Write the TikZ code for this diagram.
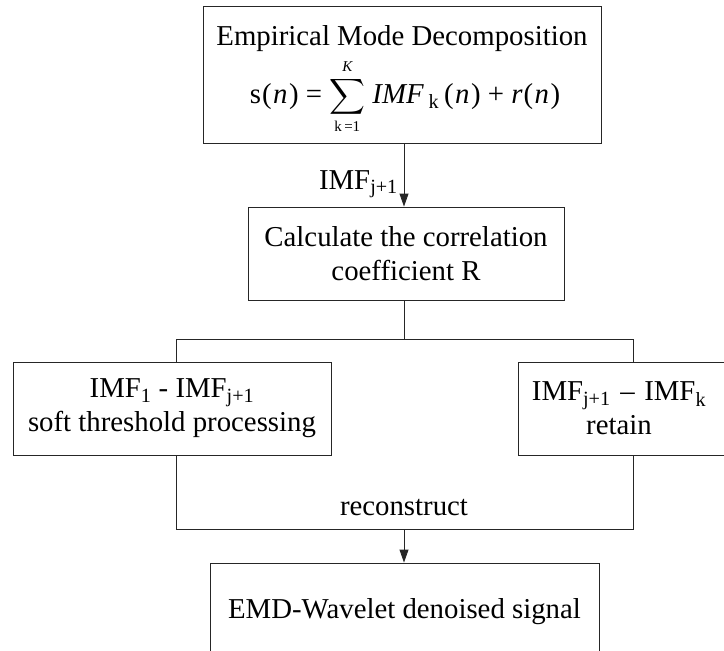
\documentclass[tikz,border=0pt]{standalone}
\usepackage{amsmath}
\usepackage{exscale}
\usepackage{fontspec}
\setmainfont{Liberation Serif}
\usetikzlibrary{arrows.meta}
\tikzset{
  box/.style={draw=black!85, line width=0.9pt, align=center, inner sep=0pt,
    font=\fontsize{28.8}{34}\selectfont},
  wire/.style={draw=black!85, line width=0.9pt},
  arr/.style={wire, -{Triangle[length=13pt,width=9pt]}},
  lbl/.style={inner sep=0pt, font=\fontsize{28.8}{34}\selectfont}
}
\newcommand{\sm}[1]{\mbox{\fontsize{15}{15}\selectfont #1}}
\newcommand{\pn}{(\kern1.5pt\textit{n}\kern1.5pt)}
\begin{document}
\begin{tikzpicture}[x=1pt,y=-1pt]
\useasboundingbox (0,0) rectangle (724,651);
\clip (0,0) rectangle (724,651);
\node[box, minimum width=398pt, minimum height=137pt] (b1) at (402,74.5) {};
\node[lbl, anchor=base] (t1) at (402,45) {Empirical Mode Decomposition};
\node[lbl, anchor=base] (f1) at (405,103) {\fontsize{28.8}{34}\selectfont s\kern1pt\pn{} = $\displaystyle\sum_{\sm{k\,=1}}^{\sm{\itshape K}}$ \textit{IMF}\,\textsubscript{k}\,\pn{} + \textit{r}\kern1pt\pn};
\node[box, minimum width=316pt, minimum height=93pt] (b2) at (406,253.5) {Calculate the correlation\\coefficient R};
\node[box, minimum width=318pt, minimum height=93pt] (b3) at (172,408.5) {IMF\textsubscript{1} - IMF\textsubscript{j+1}\\soft threshold processing};
\node[box, minimum width=210pt, minimum height=93pt, text width=210pt, align=center] (b4) at (623,408.5) {\hspace*{-8pt}IMF\textsubscript{j+1} -- IMF\textsubscript{k}\\\hspace*{-8pt}retain};
\node[box, minimum width=389pt, minimum height=97pt] (b5) at (404.5,611.5) {EMD-Wavelet denoised signal};
\coordinate (cx) at (404,0);
\coordinate (split) at (404,339);
\coordinate (lx) at (176,339);
\coordinate (rx) at (633,339);
\coordinate (join) at (404,529);
\draw[arr] (b1.south -| cx) -- (b2.north -| cx);
\node[lbl, anchor=base east] (l1) at (398,189) {IMF\textsubscript{j+1}};
\draw[wire] (b2.south -| split) -- (split);
\draw[wire] (lx |- b3.north) -- (lx) -- (rx) -- (rx |- b4.north);
\draw[wire] (b3.south -| lx) |- (join);
\draw[wire] (b4.south -| rx) |- (join);
\draw[arr] (join) -- (b5.north -| join);
\node[lbl, anchor=base] (l2) at (404,515) {reconstruct};
\end{tikzpicture}
\end{document}
